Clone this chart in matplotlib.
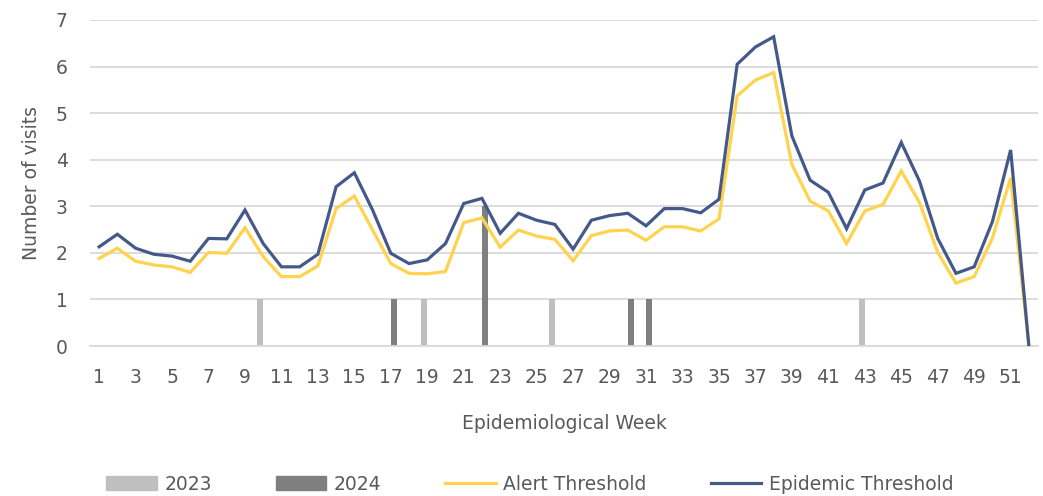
import numpy as np
import matplotlib.pyplot as plt
from matplotlib.patches import Patch
from matplotlib.lines import Line2D

plt.rcParams['font.family'] = ['DejaVu Sans']

# weekly data
weeks = np.arange(1, 53)

alert = [1.88, 2.10, 1.82, 1.74, 1.70, 1.58, 2.01, 1.99, 2.54, 1.92,
         1.49, 1.49, 1.72, 2.95, 3.22, 2.49, 1.77, 1.56, 1.55, 1.60,
         2.65, 2.75, 2.12, 2.49, 2.36, 2.29, 1.83, 2.37, 2.47, 2.49,
         2.27, 2.56, 2.56, 2.47, 2.73, 5.37, 5.71, 5.87, 3.90, 3.11,
         2.90, 2.20, 2.90, 3.04, 3.76, 3.08, 2.01, 1.35, 1.49, 2.32,
         3.61, 0.0]

epidemic = [2.13, 2.40, 2.10, 1.97, 1.93, 1.82, 2.31, 2.30, 2.92, 2.20,
            1.70, 1.70, 1.97, 3.42, 3.72, 2.92, 1.99, 1.77, 1.85, 2.20,
            3.06, 3.17, 2.42, 2.85, 2.70, 2.61, 2.08, 2.70, 2.80, 2.85,
            2.58, 2.95, 2.95, 2.86, 3.15, 6.05, 6.42, 6.64, 4.51, 3.56,
            3.30, 2.52, 3.35, 3.50, 4.37, 3.54, 2.31, 1.56, 1.70, 2.67,
            4.21, 0.0]

cases_2023 = {10: 1, 19: 1, 26: 1, 43: 1}
cases_2024 = {17: 1, 22: 3, 30: 1, 31: 1}

y2023 = np.array([cases_2023.get(w, 0) for w in weeks])
y2024 = np.array([cases_2024.get(w, 0) for w in weeks])

c2023 = '#BFBFBF'
c2024 = '#7F7F7F'
c_alert = '#FFD34D'
c_epi = '#44598A'
txt = '#595959'
grid = '#D9D9D9'
fs = 13.5

fig = plt.figure(figsize=(10.43, 4.96), dpi=100)
ax = fig.add_axes([0.0863, 0.3024, 0.9089, 0.6573])

bw = 0.32
ax.bar(weeks - bw / 2, y2023, width=bw, color=c2023, zorder=2)
ax.bar(weeks + bw / 2, y2024, width=bw, color=c2024, zorder=2)
ax.plot(weeks, alert, color=c_alert, lw=2.3, zorder=3, solid_joinstyle='miter')
ax.plot(weeks, epidemic, color=c_epi, lw=2.3, zorder=4, solid_joinstyle='miter')

ax.set_xlim(0.5, 52.5)
ax.set_ylim(0, 7)
ax.set_yticks(range(0, 8))
ax.set_xticks(weeks[::2])
ax.set_xticklabels([str(w) for w in weeks[::2]])
ax.yaxis.grid(True, color=grid, lw=1.3, zorder=0)
ax.set_axisbelow(True)
for s in ['top', 'right', 'left']:
    ax.spines[s].set_visible(False)
ax.spines['bottom'].set_color(grid)
ax.spines['bottom'].set_linewidth(1.3)
ax.tick_params(length=0, labelsize=fs, colors=txt)
ax.tick_params(axis='x', pad=16)
ax.tick_params(axis='y', pad=16)

ax.set_ylabel('Number of visits', fontsize=fs, color=txt, labelpad=11)
ax.set_xlabel('Epidemiological Week', fontsize=fs, color=txt, labelpad=19)

handles = [Patch(color=c2023), Patch(color=c2024),
           Line2D([], [], color=c_alert, lw=2.3),
           Line2D([], [], color=c_epi, lw=2.3)]
labels = ['2023', '2024', 'Alert Threshold', 'Epidemic Threshold']
leg = fig.legend(handles, labels, loc='center', bbox_to_anchor=(0.508, 0.024),
                 ncol=4, frameon=False, fontsize=fs, handlelength=2.7,
                 handleheight=0.8, handletextpad=0.4, columnspacing=3.4)
for t in leg.get_texts():
    t.set_color(txt)

fig.savefig('out.png', dpi=100)
